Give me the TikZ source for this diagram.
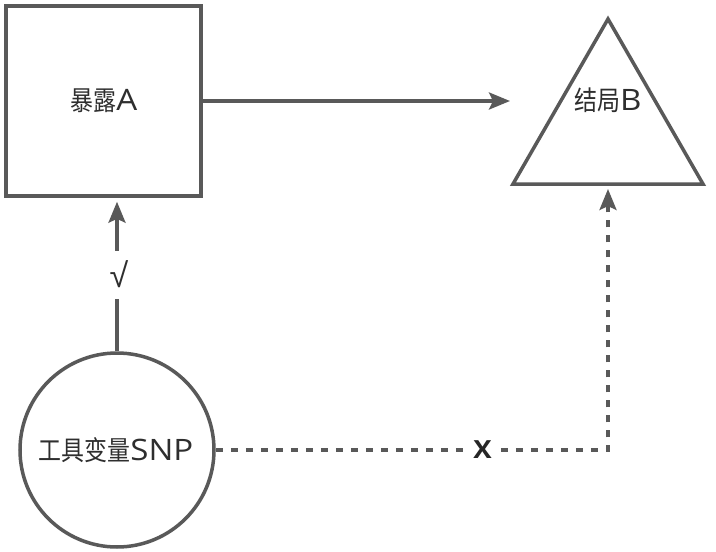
\documentclass[tikz,border=0pt]{standalone}
\usepackage{fontspec}
\setmainfont{Open Sans}
\newfontfamily\cjkfont[FakeStretch=0.85]{Noto Sans CJK SC}
\newfontfamily\symfont{Liberation Sans}
\newfontfamily\latfont[FakeStretch=1.12]{Open Sans}
\newfontfamily\latbold[FakeStretch=1.1]{Open Sans Bold}
\usetikzlibrary{arrows.meta}
\newcommand{\cjktxt}[1]{{\cjkfont\fontsize{27}{30}\selectfont #1}}
\newcommand{\lattxt}[1]{{\latfont\fontsize{29.5}{34}\selectfont #1}}
\definecolor{linegray}{HTML}{595959}
\definecolor{textgray}{HTML}{2E2E2E}
\tikzset{
  shapeline/.style={draw=linegray, line width=3.5pt, fill=white, text=textgray, inner sep=0pt},
  conn/.style={draw=linegray, line width=3.5pt, -{Stealth[length=21pt,width=17pt,inset=4pt]}},
  dconn/.style={conn, dash pattern=on 7.5pt off 7.5pt},
  lbl/.style={fill=white, text=textgray, inner sep=0pt},
}
\begin{document}
\begin{tikzpicture}[x=1pt,y=-1pt]
\useasboundingbox[fill=white] (0,0) rectangle (716,552);
% exposure box
\node[shapeline, minimum width=195pt, minimum height=190pt] (A) at (103.5,101) {};
\node[text=textgray, inner sep=0pt] (At) at (104,101) {\cjktxt{暴露}\lattxt{A}};
% outcome triangle
\coordinate (T1) at (608,19);
\coordinate (T2) at (703,184);
\coordinate (T3) at (513,184);
\draw[draw=linegray, line width=3.5pt, line join=miter] (T1) -- (T2) -- (T3) -- cycle;
\node[text=textgray, inner sep=0pt] (B) at (608,100) {\cjktxt{结局}\lattxt{B}};
\coordinate (Bbase) at (608,184);
\coordinate (Bin) at (510,101);
% instrument circle
\node[shapeline, circle, minimum size=194pt] (S) at (117,450) {};
\node[text=textgray, inner sep=0pt] (St) at (116,450) {\cjktxt{工具变量}\lattxt{SNP}};
\coordinate (K) at (608,450);
\coordinate (Ain) at (S.north |- A.south);
% connectors
\draw[conn] (A.east) -- (Bin);
\draw[conn, shorten >=4pt] (S.north) -- node[lbl, minimum height=48pt, minimum width=16pt, font=\symfont\fontsize{34}{38}\selectfont]{\hspace*{4pt}√} (Ain);
\draw[dconn, shorten >=5pt] (S.east) -- node[pos=0.68, lbl, minimum width=30pt, minimum height=22pt, font=\latbold\fontsize{25}{30}\selectfont, text=black!85]{X} (K) -- (Bbase);
\end{tikzpicture}
\end{document}
